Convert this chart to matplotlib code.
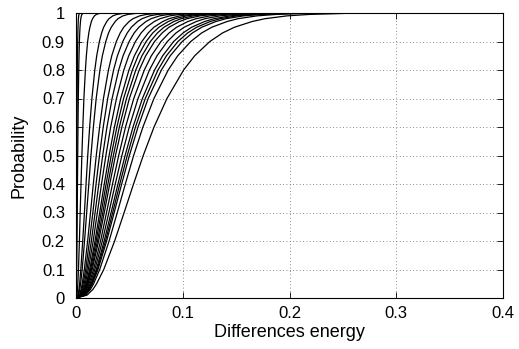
import matplotlib
matplotlib.use("Agg")
import matplotlib.pyplot as plt

# Probability levels at which each curve's x value was read
prob = [0, .01, .03, .05, .1, .2, .3, .4, .5, .6, .7, .8, .85, .9, .93, .95, .97, .98, .99, .995, 1.0]

# x values (differences energy) of each empirical CDF at the levels above
c01 = [0, .00013, .0002, .00024, .00033, .00046, .00057, .00068, .0008, .00093, .00108, .00128, .00141, .00159, .00174, .00188, .00209, .00225, .00251, .00278, .00336]
c02 = [0, .00026, .0004, .00049, .00066, .00092, .00115, .00137, .0016, .00186, .00216, .00256, .00282, .00318, .00349, .00377, .00419, .0045, .00502, .00555, .00672]
c03 = [0, .0009, .0014, .0017, .0023, .0032, .0039, .0047, .0055, .0064, .0074, .0088, .0097, .0109, .0120, .0130, .0144, .0155, .0173, .0191, .0231]
c04 = [0, .0018, .0028, .0034, .0045, .0063, .0079, .0094, .011, .0128, .0149, .0176, .0194, .0219, .0240, .0259, .0288, .0309, .0345, .0382, .0462]
c05 = [0, .0023, .0035, .0043, .0058, .0080, .0100, .0120, .014, .0163, .0189, .0224, .0247, .0279, .0305, .0330, .0367, .0393, .0440, .0486, .0588]
c06 = [0, .0031, .0048, .0058, .0078, .0109, .0136, .0162, .019, .0221, .0257, .0304, .0335, .0378, .0414, .0447, .0497, .0534, .0597, .0659, .0798]
c07 = [0, .0036, .0055, .0067, .0091, .0126, .0158, .0188, .022, .0255, .0297, .0352, .0388, .0438, .0480, .0518, .0576, .0618, .0691, .0763, .0924]
c08 = [0, .0041, .0063, .0077, .0103, .0144, .0179, .0214, .025, .0290, .0338, .0400, .0441, .0498, .0545, .0589, .0655, .0703, .0785, .0868, .105]
c09 = [0, .0046, .0070, .0086, .0115, .0161, .0200, .0239, .028, .0325, .0379, .0448, .0494, .0557, .0610, .0659, .0733, .0787, .0879, .0972, .1176]
c10 = [0, .0051, .0078, .0095, .0128, .0178, .0222, .0265, .031, .0360, .0419, .0496, .0547, .0617, .0676, .0730, .0812, .0871, .0973, .1076, .1302]
c11 = [0, .0054, .0083, .0101, .0136, .0189, .0236, .0282, .033, .0383, .0446, .0528, .0582, .0657, .0719, .0777, .0864, .0927, .1036, .1145, .1386]
c12 = [0, .0057, .0088, .0107, .0144, .0201, .0251, .0299, .035, .0406, .0473, .0560, .0618, .0697, .0763, .0824, .0916, .0984, .1099, .1215, .147]
c13 = [0, .0060, .0093, .0113, .0152, .0212, .0265, .0316, .037, .0430, .0500, .0592, .0653, .0736, .0807, .0871, .0969, .1040, .1162, .1284, .1554]
c14 = [0, .0065, .0100, .0122, .0165, .0230, .0286, .0342, .040, .0464, .0541, .0640, .0706, .0796, .0872, .0942, .1047, .1124, .1256, .1388, .168]
c15 = [0, .0070, .0108, .0132, .0177, .0247, .0308, .0368, .043, .0499, .0581, .0688, .0759, .0856, .0937, .1013, .1126, .1208, .1350, .1492, .1806]
c16 = [0, .0075, .0115, .0141, .0190, .0264, .0329, .0393, .046, .0534, .0622, .0736, .0812, .0915, .1003, .1083, .1204, .1293, .1444, .1596, .1932]
c17 = [0, .0078, .0120, .0147, .0198, .0276, .0344, .0410, .048, .0557, .0649, .0768, .0847, .0955, .1046, .1130, .1257, .1349, .1507, .1666, .2016]
c18 = [0, .0082, .0125, .0153, .0206, .0287, .0358, .0428, .050, .0581, .0676, .0800, .0883, .0995, .1090, .1178, .1309, .1405, .1570, .1735, .21]
c19 = [0, .0088, .0135, .0165, .0222, .0310, .0387, .0462, .054, .0627, .0730, .0864, .0953, .1075, .1177, .1272, .1414, .1517, .1696, .1874, .2268]
c20 = [0, .0103, .0158, .0193, .0260, .0362, .0451, .0539, .063, .0731, .0852, .1008, .1112, .1254, .1373, .1484, .1649, .1770, .1978, .2186, .2646]

curves = [c01, c02, c03, c04, c05, c06, c07, c08, c09, c10,
          c11, c12, c13, c14, c15, c16, c17, c18, c19, c20]

xticks = [0, 0.1, 0.2, 0.3, 0.4]
xticklabels = ["0", "0.1", "0.2", "0.3", "0.4"]
yticks = [0, 0.1, 0.2, 0.3, 0.4, 0.5, 0.6, 0.7, 0.8, 0.9, 1.0]
yticklabels = ["0", "0.1", "0.2", "0.3", "0.4", "0.5", "0.6", "0.7", "0.8", "0.9", "1"]

plt.rcParams['font.family'] = ['Liberation Sans', 'DejaVu Sans']

fig = plt.figure(figsize=(5.19, 3.49), dpi=100)
ax = fig.add_axes([76/519, 51/349, 427/519, 285/349])

for c in curves:
    ax.plot(c, prob, color='black', lw=0.9)

ax.set_xlim(0, 0.4)
ax.set_ylim(0, 1)
ax.set_xticks(xticks)
ax.set_xticklabels(xticklabels)
ax.set_yticks(yticks)
ax.set_yticklabels(yticklabels)
ax.tick_params(direction='in', length=4, width=0.6, labelsize=12, top=True, right=True)
ax.tick_params(axis='x', pad=6)
ax.tick_params(axis='y', pad=8)
ax.grid(True, color='#666666', linestyle=(0, (1, 3)), lw=0.6)
for s in ax.spines.values():
    s.set_linewidth(0.8)
ax.set_xlabel("Differences energy", fontsize=13)
ax.set_ylabel("Probability", fontsize=13)
ax.xaxis.set_label_coords(0.5, -0.092)
ax.yaxis.set_label_coords(-0.113, 0.5)

fig.savefig("out.png", dpi=100)
